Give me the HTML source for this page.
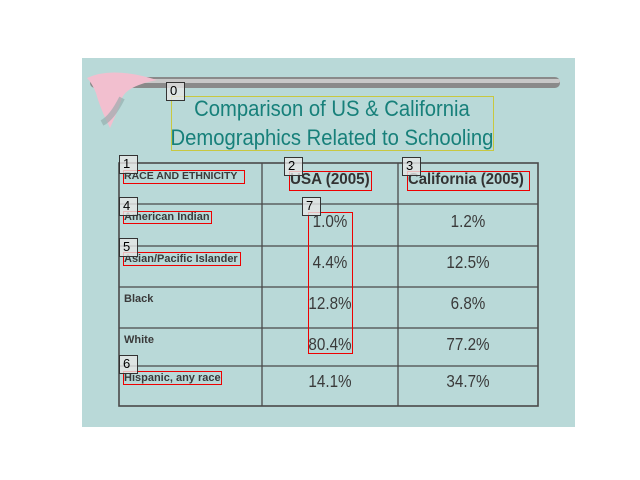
<!DOCTYPE html>
<html><head><meta charset="utf-8"><style>
body{margin:0;width:640px;height:480px;background:#fff;position:relative;overflow:hidden;font-family:"Liberation Sans",sans-serif}
.a{position:absolute}
.slide{left:82px;top:58px;width:493px;height:369px;background:#b9d9d8}
.t{position:absolute;white-space:nowrap;color:#333}
.lbl{font-size:11px;font-weight:bold;color:#3a3a3a}
.num{font-size:17.5px;color:#3a3a3a;text-align:center;width:136px;transform:scaleX(0.87);transform-origin:center}
.red{position:absolute;border:1.5px solid #e00;box-sizing:border-box}
.tag{position:absolute;width:19px;height:19px;border:1px solid #333;background:rgba(230,230,230,.8);font-size:13px;line-height:15px;padding-left:3px;box-sizing:border-box;color:#000}
</style></head><body>
<div class="a slide"></div>
<svg class="a" style="left:82px;top:58px" width="493" height="369">
<rect x="8" y="19" width="470" height="11" rx="5" fill="#8a8a8a"/>
<rect x="8" y="21" width="470" height="4" rx="2" fill="#c8c8c8"/>
<path d="M5 20 Q30 8 75 22 Q45 28 40 40 Q35 55 28 70 Q18 50 14 35 Q10 25 5 20Z" fill="#f2bfcf"/>
<path d="M20 65 Q30 60 40 40" stroke="#8fa9a9" stroke-width="6" fill="none" opacity=".6"/>
</svg>
<div class="a" style="left:171px;top:96px;width:323px;height:55px;border:1px solid #c8c840;box-sizing:border-box"></div>
<div class="t" style="left:132px;top:94px;width:400px;text-align:center;font-size:22px;line-height:29px;color:#17807a;transform:scaleX(0.92);transform-origin:center">Comparison of US &amp; California<br>Demographics Related to Schooling</div>
<svg class="a" style="left:0;top:0" width="640" height="480">
<g stroke="#4a4a4a" stroke-width="1.3" fill="none">
<rect x="119" y="163" width="419" height="243" stroke-width="1.6"/>
<line x1="262" y1="163" x2="262" y2="406"/><line x1="398" y1="163" x2="398" y2="406"/>
<line x1="119" y1="204" x2="538" y2="204"/><line x1="119" y1="246" x2="538" y2="246"/>
<line x1="119" y1="287" x2="538" y2="287"/><line x1="119" y1="328" x2="538" y2="328"/>
<line x1="119" y1="366" x2="538" y2="366"/>
</g></svg>
<div class="t lbl" style="left:124px;top:170px;font-size:10.5px">RACE AND ETHNICITY</div>
<div class="t" style="left:290px;top:171px;font-size:16px;font-weight:bold;transform:scaleX(0.95);transform-origin:left">USA (2005)</div>
<div class="t" style="left:408px;top:171px;font-size:16px;font-weight:bold;transform:scaleX(0.93);transform-origin:left">California (2005)</div>
<div class="t lbl" style="left:124px;top:211px">American Indian</div>
<div class="t lbl" style="left:124px;top:253px">Asian/Pacific Islander</div>
<div class="t lbl" style="left:124px;top:293px">Black</div>
<div class="t lbl" style="left:124px;top:334px">White</div>
<div class="t lbl" style="left:124px;top:372px">Hispanic, any race</div>
<div class="t num" style="left:262px;top:211px">1.0%</div>
<div class="t num" style="left:262px;top:252px">4.4%</div>
<div class="t num" style="left:262px;top:293px">12.8%</div>
<div class="t num" style="left:262px;top:334px">80.4%</div>
<div class="t num" style="left:262px;top:371px">14.1%</div>
<div class="t num" style="left:400px;top:211px">1.2%</div>
<div class="t num" style="left:400px;top:252px">12.5%</div>
<div class="t num" style="left:400px;top:293px">6.8%</div>
<div class="t num" style="left:400px;top:334px">77.2%</div>
<div class="t num" style="left:400px;top:371px">34.7%</div>
<div class="red" style="left:123px;top:170px;width:122px;height:14px"></div>
<div class="red" style="left:289px;top:171px;width:83px;height:20px"></div>
<div class="red" style="left:407px;top:171px;width:123px;height:20px"></div>
<div class="red" style="left:123px;top:211px;width:89px;height:13px"></div>
<div class="red" style="left:123px;top:252px;width:118px;height:14px"></div>
<div class="red" style="left:123px;top:371px;width:99px;height:14px"></div>
<div class="red" style="left:308px;top:212px;width:45px;height:142px"></div>
<div class="tag" style="left:166px;top:82px">0</div>
<div class="tag" style="left:119px;top:155px">1</div>
<div class="tag" style="left:284px;top:157px">2</div>
<div class="tag" style="left:402px;top:157px">3</div>
<div class="tag" style="left:119px;top:197px">4</div>
<div class="tag" style="left:119px;top:238px">5</div>
<div class="tag" style="left:119px;top:355px">6</div>
<div class="tag" style="left:302px;top:197px">7</div>
</body></html>
